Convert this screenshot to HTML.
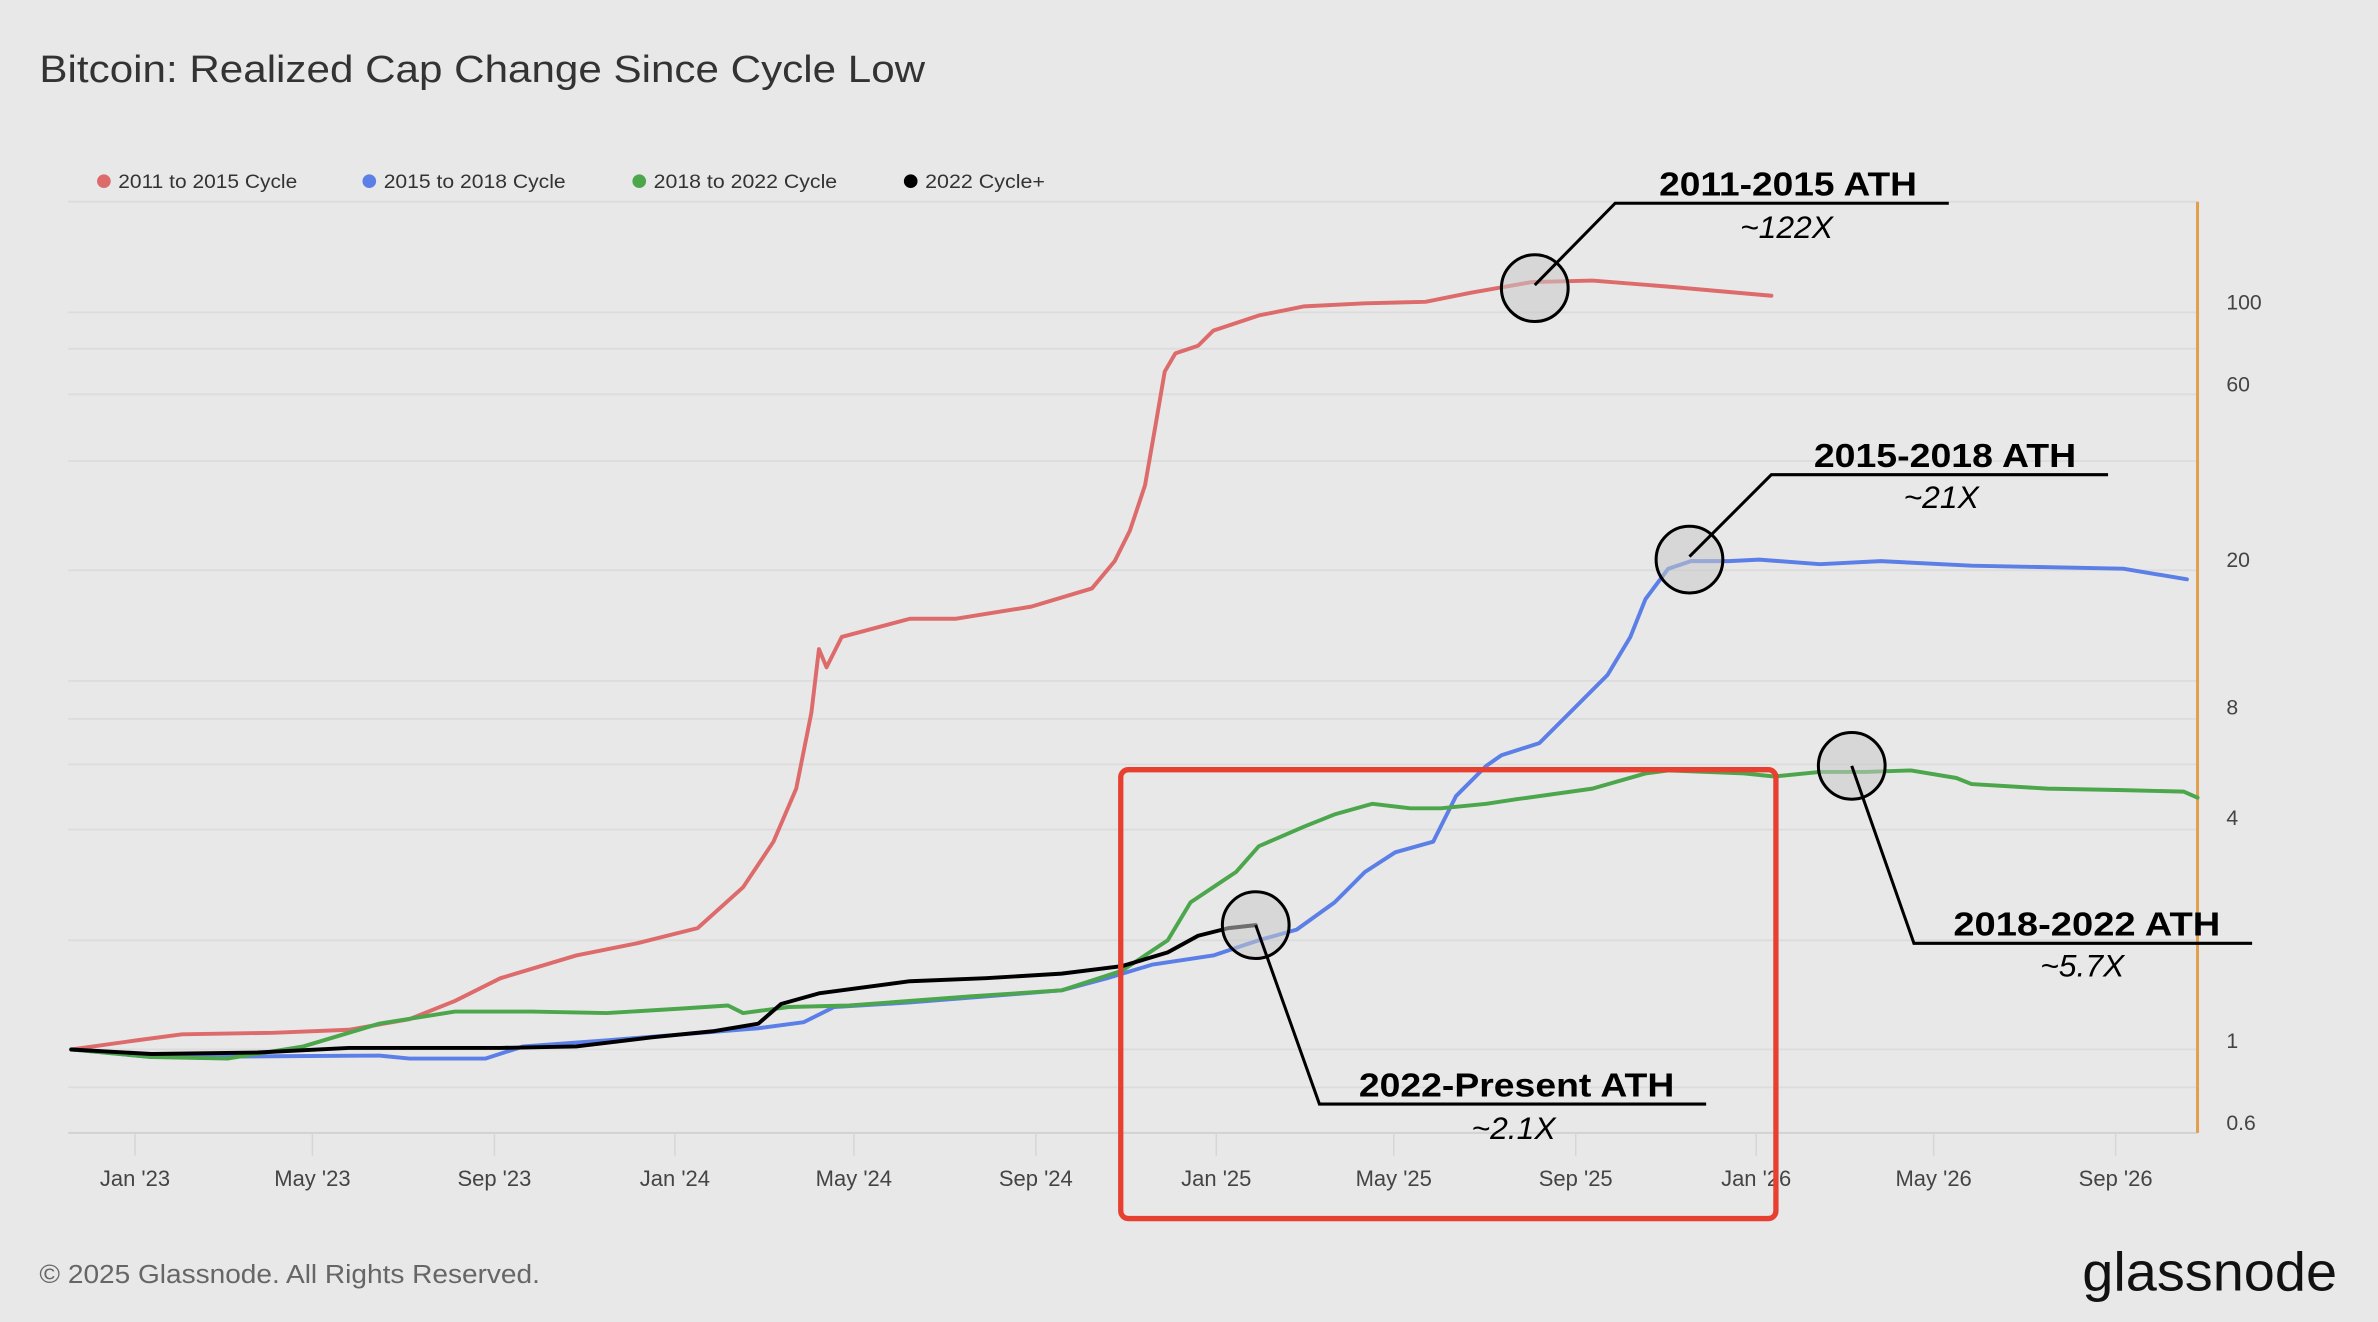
<!DOCTYPE html>
<html><head><meta charset="utf-8"><style>
html,body{margin:0;padding:0;background:#e8e8e8;}
svg{display:block;}
text{font-family:"Liberation Sans",sans-serif;}
</style></head><body>
<svg width="2378" height="1322" viewBox="0 0 1568 871.7" xmlns="http://www.w3.org/2000/svg">
<rect x="0" y="0" width="1568" height="872" fill="#e8e8e8"/>
<text x="26" y="54" font-size="25" fill="#333" textLength="584" lengthAdjust="spacingAndGlyphs">Bitcoin: Realized Cap Change Since Cycle Low</text>
<g font-size="13" fill="#333">
<circle cx="68.5" cy="119.5" r="4.5" fill="#dd6b6b"/><text x="78" y="124" textLength="118" lengthAdjust="spacingAndGlyphs">2011 to 2015 Cycle</text>
<circle cx="243.5" cy="119.5" r="4.5" fill="#5b7fe6"/><text x="253" y="124" textLength="120" lengthAdjust="spacingAndGlyphs">2015 to 2018 Cycle</text>
<circle cx="421.5" cy="119.5" r="4.5" fill="#4ca64c"/><text x="431" y="124" textLength="121" lengthAdjust="spacingAndGlyphs">2018 to 2022 Cycle</text>
<circle cx="600.5" cy="119.5" r="4.5" fill="#000"/><text x="610" y="124" textLength="79" lengthAdjust="spacingAndGlyphs">2022 Cycle+</text>
</g>
<g stroke="#dcdcdc" stroke-width="1.2">
<line x1="45" x2="1449" y1="133" y2="133"/>
<line x1="45" x2="1449" y1="206" y2="206"/>
<line x1="45" x2="1449" y1="230" y2="230"/>
<line x1="45" x2="1449" y1="260" y2="260"/>
<line x1="45" x2="1449" y1="304" y2="304"/>
<line x1="45" x2="1449" y1="376" y2="376"/>
<line x1="45" x2="1449" y1="449" y2="449"/>
<line x1="45" x2="1449" y1="474" y2="474"/>
<line x1="45" x2="1449" y1="504" y2="504"/>
<line x1="45" x2="1449" y1="547" y2="547"/>
<line x1="45" x2="1449" y1="620" y2="620"/>
<line x1="45" x2="1449" y1="692" y2="692"/>
<line x1="45" x2="1449" y1="717" y2="717"/>
</g>
<line x1="45" x2="1449" y1="747" y2="747" stroke="#d2d2d2" stroke-width="1.3"/>
<g stroke="#d6d6d6" stroke-width="1">
<line x1="89" x2="89" y1="747" y2="762"/><line x1="206" x2="206" y1="747" y2="762"/><line x1="326" x2="326" y1="747" y2="762"/><line x1="445" x2="445" y1="747" y2="762"/><line x1="563" x2="563" y1="747" y2="762"/><line x1="683" x2="683" y1="747" y2="762"/><line x1="802" x2="802" y1="747" y2="762"/><line x1="919" x2="919" y1="747" y2="762"/><line x1="1039" x2="1039" y1="747" y2="762"/><line x1="1158" x2="1158" y1="747" y2="762"/><line x1="1275" x2="1275" y1="747" y2="762"/><line x1="1395" x2="1395" y1="747" y2="762"/>
</g>
<g font-size="14.5" fill="#444" text-anchor="middle">
<text x="89" y="782">Jan '23</text><text x="206" y="782">May '23</text><text x="326" y="782">Sep '23</text><text x="445" y="782">Jan '24</text><text x="563" y="782">May '24</text><text x="683" y="782">Sep '24</text><text x="802" y="782">Jan '25</text><text x="919" y="782">May '25</text><text x="1039" y="782">Sep '25</text><text x="1158" y="782">Jan '26</text><text x="1275" y="782">May '26</text><text x="1395" y="782">Sep '26</text>
</g>
<line x1="1449" x2="1449" y1="133" y2="747" stroke="#e0a050" stroke-width="2"/>
<g font-size="14" fill="#444">
<text x="1468" y="204">100</text><text x="1468" y="258">60</text><text x="1468" y="374">20</text><text x="1468" y="471">8</text><text x="1468" y="544">4</text><text x="1468" y="691">1</text><text x="1468" y="745">0.6</text>
</g>
<g fill="none" stroke-width="2.6" stroke-linejoin="round" stroke-linecap="round">
<polyline stroke="#dd6b6b" points="47,692 90,686 120,682 180,681 230,679 270,672 300,660 330,645 380,630 420,622 460,612 490,585 510,555 525,520 535,470 540,428 545,440 555,420 600,408 630,408 680,400 720,388 735,370 745,350 755,320 762,280 768,245 775,233 790,228 800,218 830,208 860,202 900,200 940,199 970,193 1010,186 1050,185 1100,189 1168,195"/>
<polyline stroke="#5b7fe6" points="47,692 100,697 250,696 270,698 320,698 345,690 400,686 450,682 500,678 530,674 550,664 600,661 650,657 700,653 730,645 760,636 800,630 830,620 855,613 880,595 900,575 920,562 945,555 960,525 980,505 990,498 1015,490 1040,465 1060,445 1075,420 1085,395 1100,375 1115,370 1140,370 1160,369 1200,372 1240,370 1300,373 1400,375 1442,382"/>
<polyline stroke="#4ca64c" points="47,692 100,697 150,698 200,690 250,675 300,667 350,667 400,668 450,665 480,663 490,668 520,664 560,663 640,657 700,653 740,640 770,620 785,595 800,585 815,575 830,558 860,545 880,537 905,530 930,533 950,533 980,530 1000,527 1050,520 1085,510 1100,508 1150,510 1170,512 1200,509 1230,509 1260,508 1290,513 1300,517 1350,520 1400,521 1440,522 1449,526"/>
<polyline stroke="#000" points="47,692 100,695 170,694 230,691 330,691 380,690 430,684 470,680 500,675 515,662 540,655 600,647 650,645 700,642 740,637 770,628 790,617 810,612 828,610"/>
</g>
<rect x="739" y="507.5" width="432" height="296" rx="5" fill="none" stroke="#e84030" stroke-width="3.5"/>
<g fill="rgba(200,200,200,0.55)" stroke="#000" stroke-width="2">
<circle cx="1012" cy="190" r="22"/><circle cx="1114" cy="369" r="22"/><circle cx="1221" cy="505" r="22"/><circle cx="828" cy="610" r="22"/>
</g>
<g stroke="#000" stroke-width="2" fill="none">
<polyline points="1012,188 1065,134 1285,134"/>
<polyline points="1114,367 1168,313 1390,313"/>
<polyline points="1221,505 1262,622 1485,622"/>
<polyline points="828,610 870,728 1125,728"/>
</g>
<g font-size="22" font-weight="bold" fill="#000">
<text x="1094" y="129" textLength="170" lengthAdjust="spacingAndGlyphs">2011-2015 ATH</text>
<text x="1196" y="308" textLength="173" lengthAdjust="spacingAndGlyphs">2015-2018 ATH</text>
<text x="1288" y="617" textLength="176" lengthAdjust="spacingAndGlyphs">2018-2022 ATH</text>
<text x="896" y="723" textLength="208" lengthAdjust="spacingAndGlyphs">2022-Present ATH</text>
</g>
<g font-size="21" font-style="italic" fill="#000" text-anchor="middle">
<text x="1178" y="157">~122X</text>
<text x="1280" y="335">~21X</text>
<text x="1373" y="644">~5.7X</text>
<text x="998" y="751">~2.1X</text>
</g>
<text x="26" y="846" font-size="17" fill="#666" textLength="330" lengthAdjust="spacingAndGlyphs">© 2025 Glassnode. All Rights Reserved.</text>
<text x="1373" y="851" font-size="36" fill="#111" textLength="168" lengthAdjust="spacingAndGlyphs">glassnode</text>
</svg>
</body></html>
